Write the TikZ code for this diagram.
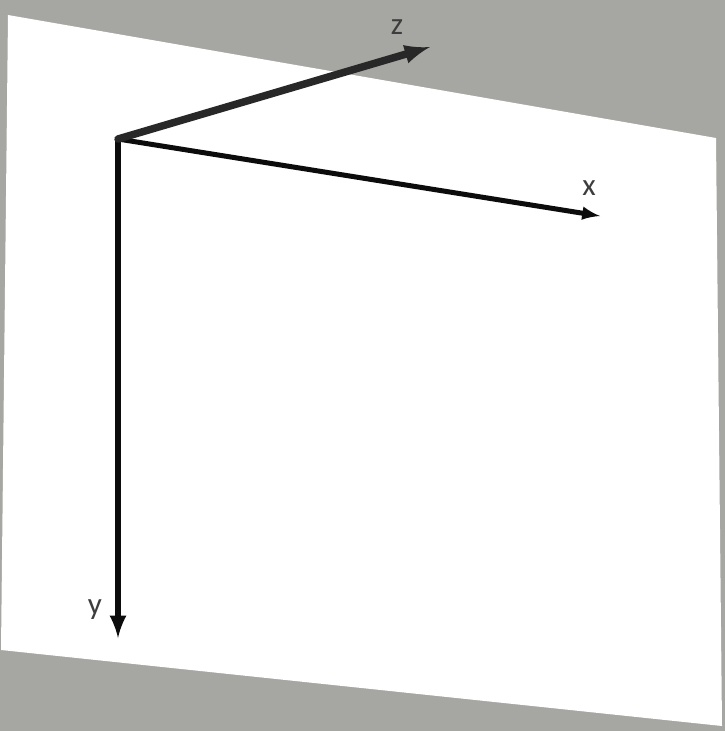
\documentclass[tikz,border=0pt]{standalone}
\usepackage{fontspec}
\setmainfont{Carlito}
\usepackage{tikz}
\definecolor{wand}{RGB}{166,166,162}
\definecolor{achse}{RGB}{12,12,12}
\definecolor{tiefe}{RGB}{40,40,40}
\usetikzlibrary{arrows}

\begin{document}
\begin{tikzpicture}[x=1pt, y=-1pt,
				>=latex,   %Pfeilspitzen
				achsenpfeil/.style={->, color=achse, line width=#1},
				beschriftung/.style={font=\fontsize{31}{33}\selectfont, inner sep=0pt, color=achse!80!white}]
				%Hintergrund
				\fill[wand] (0,0) rectangle (725,731);
				\useasboundingbox (0,0) rectangle (725,731);
				%Ebene
				\fill[white] (8,15) -- (716,138) -- (722,726) -- (1,650) -- cycle;
				%Punkte
				\coordinate (o) at (118,139);
				\coordinate (xe) at (600,216);
				\coordinate (ye) at (118,638);
				\coordinate (ze) at (430,47);
				% Achsen zeichnen
				\draw[achsenpfeil=5pt] (o) -- (xe);
				\draw[achsenpfeil=6.5pt] ([yshift=-2pt]o) -- (ye);
				\draw[achsenpfeil=7.5pt, color=tiefe, line cap=round] (o) -- (ze);
				% Achsen beschriften
				\node[beschriftung] (zlabel) at (397,27) {z};
				\node[beschriftung] (xlabel) at (589,188) {x};
				\node[beschriftung] (ylabel) at (95,610) {y};
			\end{tikzpicture}
\end{document}
